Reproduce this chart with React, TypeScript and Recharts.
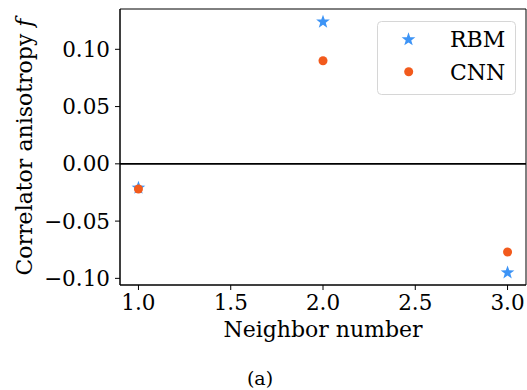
import { ScatterChart, Scatter, XAxis, YAxis, ReferenceLine, ReferenceArea, Label } from 'recharts';

const neighbors = [1, 2, 3];
const rbmF = [-0.021, 0.124, -0.095];
const cnnF = [-0.022, 0.09, -0.077];
const xTicks = [1.0, 1.5, 2.0, 2.5, 3.0];
const yTicks = [-0.1, -0.05, 0, 0.05, 0.1];

const X_DOMAIN: [number, number] = [0.9, 3.1];
const Y_DOMAIN: [number, number] = [-0.1058, 0.1352];

const BLUE = '#3d94f6';
const RED = '#f25a1c';
const FONT = "'DejaVu Serif', serif";

const rbmData = neighbors.map((x, i) => ({ x, y: rbmF[i] }));
const cnnData = neighbors.map((x, i) => ({ x, y: cnnF[i] }));

function starPath(cx: number, cy: number, ro: number, ri: number) {
  const pts: string[] = [];
  for (let i = 0; i < 10; i++) {
    const r = i % 2 === 0 ? ro : ri;
    const a = -Math.PI / 2 + (i * Math.PI) / 5;
    pts.push(`${(cx + r * Math.cos(a)).toFixed(2)},${(cy + r * Math.sin(a)).toFixed(2)}`);
  }
  return `M${pts.join('L')}Z`;
}

const Star = (p: any) => <path d={starPath(p.cx, p.cy, 7.2, 2.9)} fill={BLUE} />;
const Dot = (p: any) => <circle cx={p.cx} cy={p.cy} r={4.5} fill={RED} />;

function fmtY(v: number) {
  const s = Math.abs(v).toFixed(2);
  return v < -1e-9 ? `\u2212${s}` : s;
}

function LegendBox() {
  return (
    <svg width={140} height={75} style={{ display: 'block' }}>
      <rect x={0.5} y={0.5} width={138} height={73} rx={4} fill="#fff" fillOpacity={0.8} stroke="#d6d6d6" />
      <path d={starPath(31.5, 18.5, 7.2, 2.9)} fill={BLUE} />
      <text x={73} y={26} fontFamily={FONT} fontSize={22} fill="#000">RBM</text>
      <circle cx={31.7} cy={50.7} r={4.5} fill={RED} />
      <text x={73} y={59} fontFamily={FONT} fontSize={22} fill="#000">CNN</text>
    </svg>
  );
}

export default function App() {
  const tick = { fontFamily: FONT, fontSize: 21.5, fill: '#000' };
  return (
    <div style={{ position: 'absolute', left: 0, top: 0, width: 527, height: 390, background: '#fff' }}>
      <ScatterChart width={527} height={390} margin={{ top: 9, right: 1, left: 0, bottom: 0 }}>
        <XAxis
          type="number"
          dataKey="x"
          domain={X_DOMAIN}
          ticks={xTicks}
          allowDataOverflow
          tickFormatter={(v: number) => v.toFixed(1)}
          tick={tick}
          tickSize={5}
          tickMargin={5}
          height={105}
          axisLine={{ stroke: '#000' }}
          tickLine={{ stroke: '#000' }}
        >
          <Label value="Neighbor number" position="insideBottom" offset={53} style={{ fontFamily: FONT, fontSize: 22, fill: '#000' }} />
        </XAxis>
        <YAxis
          type="number"
          dataKey="y"
          domain={Y_DOMAIN}
          ticks={yTicks}
          allowDataOverflow
          tickFormatter={fmtY}
          tick={tick}
          tickSize={5}
          tickMargin={5}
          width={120}
          axisLine={{ stroke: '#000' }}
          tickLine={{ stroke: '#000' }}
        >
          <Label
            position="insideLeft"
            value="Correlator anisotropy f"
            content={(props: any) => {
              const vb = props.viewBox;
              const x = vb.x + 24;
              const y = vb.y + vb.height / 2;
              return (
                <text x={x} y={y} transform={`rotate(-90 ${x} ${y})`} dy="0.355em" textAnchor="middle" fontFamily={FONT} fontSize={22} fill="#000">
                  Correlator anisotropy <tspan fontStyle="italic">f</tspan>
                </text>
              );
            }}
          />
        </YAxis>
        <ReferenceArea x1={X_DOMAIN[0]} x2={X_DOMAIN[1]} y1={Y_DOMAIN[0]} y2={Y_DOMAIN[1]} fill="none" stroke="#000" strokeWidth={1} />
        <ReferenceLine y={0} stroke="#000" strokeWidth={1.6} />
        <Scatter name="RBM" data={rbmData} shape={Star} isAnimationActive={false} />
        <Scatter name="CNN" data={cnnData} shape={Dot} isAnimationActive={false} />
      </ScatterChart>
      <div style={{ position: 'absolute', left: 377, top: 21 }}>
        <LegendBox />
      </div>
      <div
        style={{
          position: 'absolute',
          left: 0,
          width: 520,
          top: 366,
          textAlign: 'center',
          fontFamily: FONT,
          fontSize: 19,
          lineHeight: '24px',
          color: '#000',
        }}
      >
        (a)
      </div>
    </div>
  );
}
